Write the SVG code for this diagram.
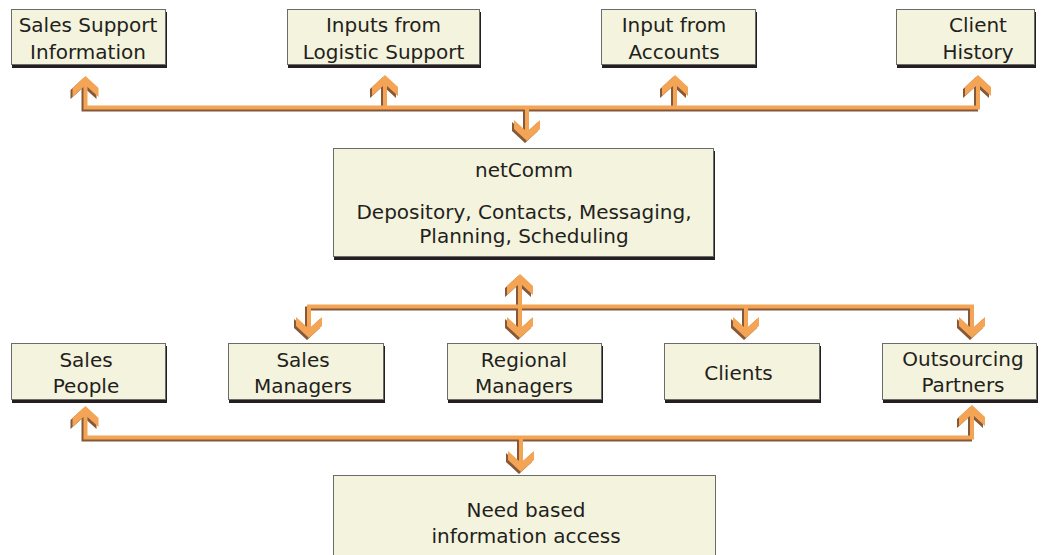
<svg xmlns="http://www.w3.org/2000/svg" width="1048" height="555" viewBox="0 0 1048 555">
<style>
.box{fill:#f4f3dd;stroke:#6b6b6b;stroke-width:1}
.sh{fill:#231f20}
.t{font-family:"DejaVu Sans",sans-serif;font-size:20px;fill:#231f20;text-anchor:middle}
.ln{fill:none;stroke:#f4a455;stroke-width:4;stroke-linejoin:miter}
.lnS{fill:none;stroke:#85583a;stroke-width:4;stroke-linejoin:miter}
.hd{fill:#f4a455}
.hdS{fill:#85583a}
</style>
<defs>
<polygon id="pDown" points="0,0 -13,-12 -13,-21 -2,-11 2,-11 13,-21 13,-12"/>
<polygon id="pUp" points="0,0 13,12 13,21 2,11 -2,11 -13,21 -13,12"/>
</defs>
<g id="connectors">
<g transform="translate(-2,2)">
<path class="lnS" d="M85.5,86 V107.5 H978 V86 M385,107.5 V86 M675,107.5 V86 M527,107.5 V134"/>
<path class="lnS" d="M309,330 V306.5 H972 V330 M746,306.5 V330 M520,284 V330"/>
<path class="lnS" d="M85.5,416 V437.5 H972 V415 M521,437.5 V465"/>
<use href="#pUp" class="hdS" x="85.5" y="76"/>
<use href="#pUp" class="hdS" x="385" y="75"/>
<use href="#pUp" class="hdS" x="675" y="75"/>
<use href="#pUp" class="hdS" x="978" y="75"/>
<use href="#pDown" class="hdS" x="527" y="141"/>
<use href="#pUp" class="hdS" x="520" y="274"/>
<use href="#pDown" class="hdS" x="309" y="338"/>
<use href="#pDown" class="hdS" x="520" y="338"/>
<use href="#pDown" class="hdS" x="746" y="338"/>
<use href="#pDown" class="hdS" x="972" y="338"/>
<use href="#pUp" class="hdS" x="85.5" y="406"/>
<use href="#pUp" class="hdS" x="972" y="405"/>
<use href="#pDown" class="hdS" x="521" y="472"/>
</g>
<path class="ln" d="M85.5,86 V107.5 H978 V86 M385,107.5 V86 M675,107.5 V86 M527,107.5 V134"/>
<path class="ln" d="M309,330 V306.5 H972 V330 M746,306.5 V330 M520,284 V330"/>
<path class="ln" d="M85.5,416 V437.5 H972 V415 M521,437.5 V465"/>
<use href="#pUp" class="hd" x="85.5" y="76"/>
<use href="#pUp" class="hd" x="385" y="75"/>
<use href="#pUp" class="hd" x="675" y="75"/>
<use href="#pUp" class="hd" x="978" y="75"/>
<use href="#pDown" class="hd" x="527" y="141"/>
<use href="#pUp" class="hd" x="520" y="274"/>
<use href="#pDown" class="hd" x="309" y="338"/>
<use href="#pDown" class="hd" x="520" y="338"/>
<use href="#pDown" class="hd" x="746" y="338"/>
<use href="#pDown" class="hd" x="972" y="338"/>
<use href="#pUp" class="hd" x="85.5" y="406"/>
<use href="#pUp" class="hd" x="972" y="405"/>
<use href="#pDown" class="hd" x="521" y="472"/>
</g>
<g id="sales-support">
<rect class="sh" x="12" y="12" width="155" height="56"/>
<rect class="box" x="11.5" y="9.5" width="154" height="55"/>
<text class="t" x="88" y="32">Sales Support</text>
<text class="t" x="88" y="59">Information</text>
</g>
<g id="logistic">
<rect class="sh" x="288" y="12" width="193" height="56"/>
<rect class="box" x="287.5" y="9.5" width="192" height="55"/>
<text class="t" x="383.5" y="32">Inputs from</text>
<text class="t" x="383.5" y="59">Logistic Support</text>
</g>
<g id="accounts">
<rect class="sh" x="602" y="12" width="155" height="56"/>
<rect class="box" x="601.5" y="9.5" width="154" height="55"/>
<text class="t" x="674" y="32">Input from</text>
<text class="t" x="674" y="59">Accounts</text>
</g>
<g id="client-history">
<rect class="sh" x="897" y="12" width="139" height="56"/>
<rect class="box" x="896.5" y="9.5" width="138" height="55"/>
<text class="t" x="978" y="32">Client</text>
<text class="t" x="978" y="59">History</text>
</g>
<g id="netcomm">
<rect class="sh" x="334" y="151" width="381" height="109"/>
<rect class="box" x="333.5" y="148.5" width="380" height="108"/>
<text class="t" x="524" y="177">netComm</text>
<text class="t" x="524" y="219">Depository, Contacts, Messaging,</text>
<text class="t" x="524" y="243">Planning, Scheduling</text>
</g>
<g id="sales-people">
<rect class="sh" x="12" y="346" width="155" height="57"/>
<rect class="box" x="11.5" y="343.5" width="154" height="56"/>
<text class="t" x="86" y="367">Sales</text>
<text class="t" x="86" y="393">People</text>
</g>
<g id="sales-managers">
<rect class="sh" x="229" y="346" width="156" height="57"/>
<rect class="box" x="228.5" y="343.5" width="155" height="56"/>
<text class="t" x="303" y="367">Sales</text>
<text class="t" x="303" y="393">Managers</text>
</g>
<g id="regional-managers">
<rect class="sh" x="448" y="346" width="155" height="57"/>
<rect class="box" x="447.5" y="343.5" width="154" height="56"/>
<text class="t" x="524" y="367">Regional</text>
<text class="t" x="524" y="393">Managers</text>
</g>
<g id="clients">
<rect class="sh" x="665" y="346" width="156" height="57"/>
<rect class="box" x="664.5" y="343.5" width="155" height="56"/>
<text class="t" x="738.5" y="380">Clients</text>
</g>
<g id="outsourcing">
<rect class="sh" x="883" y="346" width="155" height="57"/>
<rect class="box" x="882.5" y="343.5" width="154" height="56"/>
<text class="t" x="963" y="366">Outsourcing</text>
<text class="t" x="963" y="392">Partners</text>
</g>
<g id="need-based">
<rect class="box" x="333.5" y="475.5" width="382" height="90"/>
<text class="t" x="526" y="517">Need based</text>
<text class="t" x="526" y="543">information access</text>
</g>
</svg>
